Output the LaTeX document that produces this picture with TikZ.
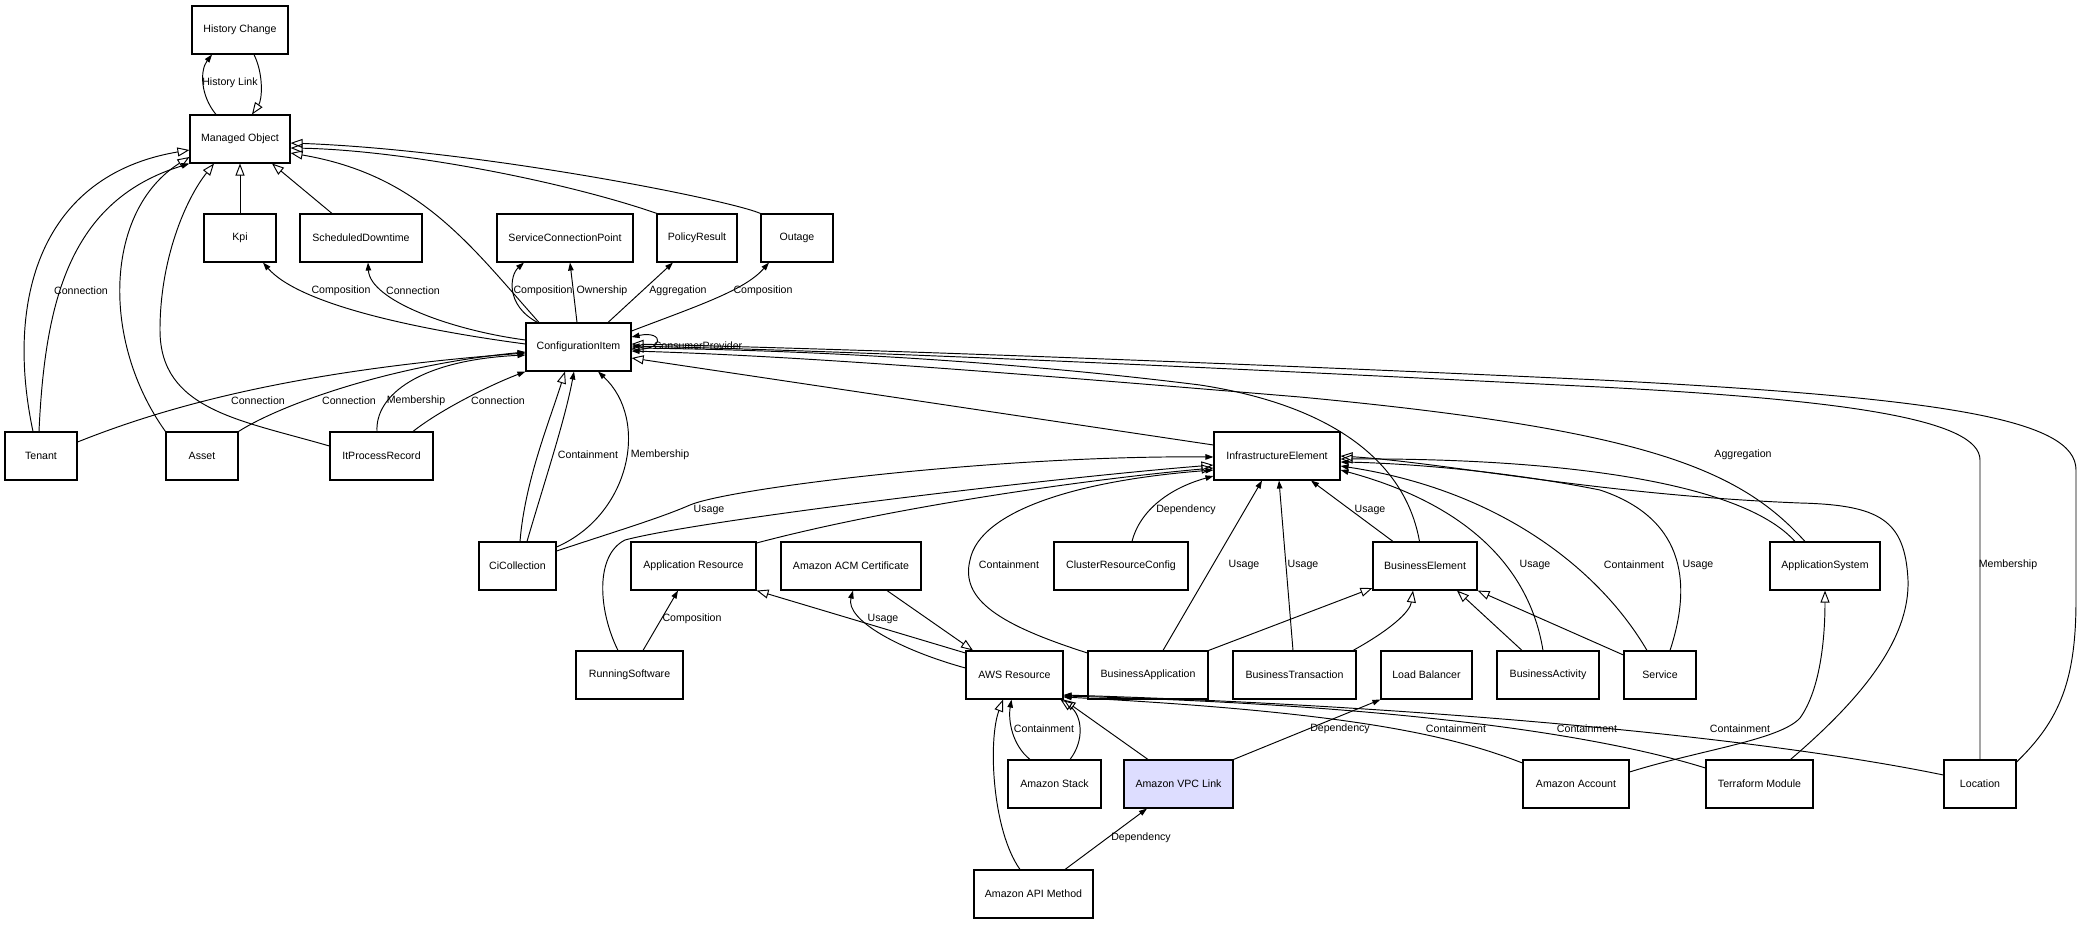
\documentclass[tikz,border=0pt]{standalone}
\usepackage{fontspec}
\setmainfont{Liberation Sans}
\usetikzlibrary{arrows.meta}
\definecolor{vpcfill}{RGB}{221,221,255}
\begin{document}
\begin{tikzpicture}[x=1pt,y=-1pt,
  every node/.style={font=\fontsize{10.6}{12}\selectfont},
  box/.style={draw=black,line width=1.1pt,fill=white,minimum height=48pt,inner sep=0pt},
  inh/.style={line width=0.95pt,-{Triangle[open,length=12pt,width=9pt,line width=0.95pt]}},
  asc/.style={line width=0.95pt,-{Triangle[length=8pt,width=5.5pt]}},
  lbl/.style={inner sep=0pt}]
\useasboundingbox (0,0) rectangle (2081,924);
\fill[white] (0,0) rectangle (2081,924);
% nodes
\node[box,minimum width=96pt] (hc) at (240,30) {History Change};
\node[box,minimum width=100pt] (mo) at (240,139) {Managed Object};
\node[box,minimum width=72pt] (kpi) at (240,238) {Kpi};
\node[box,minimum width=122pt] (sd) at (361,238) {ScheduledDowntime};
\node[box,minimum width=136pt] (scp) at (565,238) {ServiceConnectionPoint};
\node[box,minimum width=80pt] (pr) at (697,238) {PolicyResult};
\node[box,minimum width=72pt] (ou) at (797,238) {Outage};
\node[box,minimum width=105pt] (ci) at (578.5,347) {ConfigurationItem};
\node[box,minimum width=72pt] (tn) at (41,456) {Tenant};
\node[box,minimum width=72pt] (ast) at (202,456) {Asset};
\node[box,minimum width=103pt] (ipr) at (381.5,456) {ItProcessRecord};
\node[box,minimum width=126pt] (ie) at (1277,456) {InfrastructureElement};
\node[box,minimum width=77pt] (cc) at (517.5,566) {CiCollection};
\node[box,minimum width=125pt] (ar) at (693.5,566) {Application Resource};
\node[box,minimum width=140pt] (acm) at (851,566) {Amazon ACM Certificate};
\node[box,minimum width=134pt] (crc) at (1121,566) {ClusterResourceConfig};
\node[box,minimum width=104pt] (be) at (1425,566) {BusinessElement};
\node[box,minimum width=110pt] (asys) at (1825,566) {ApplicationSystem};
\node[box,minimum width=107pt] (rs) at (629.5,675) {RunningSoftware};
\node[box,minimum width=97pt] (aws) at (1014.5,675) {AWS Resource};
\node[box,minimum width=120pt] (bapp) at (1148,675) {BusinessApplication};
\node[box,minimum width=123pt] (bt) at (1294.5,675) {BusinessTransaction};
\node[box,minimum width=91pt] (lb) at (1426.5,675) {Load Balancer};
\node[box,minimum width=102pt] (bac) at (1548,675) {BusinessActivity};
\node[box,minimum width=72pt] (sv) at (1660,675) {Service};
\node[box,minimum width=93pt] (st) at (1054.5,784) {Amazon Stack};
\node[box,minimum width=109pt,fill=vpcfill] (vpc) at (1178.5,784) {Amazon VPC Link};
\node[box,minimum width=106pt] (aa) at (1576,784) {Amazon Account};
\node[box,minimum width=107pt] (tm) at (1759.5,784) {Terraform Module};
\node[box,minimum width=72pt] (loc) at (1980,784) {Location};
\node[box,minimum width=119pt] (api) at (1033.5,894) {Amazon API Method};
% edges: Managed Object area
\draw[asc] ([xshift=-24pt]mo.north) .. controls (200,95) and (200,70) .. ([xshift=-28pt]hc.south);
\draw[inh] ([xshift=14pt]hc.south) .. controls (264,75) and (262,100) .. ([xshift=12pt]mo.north);
\draw[inh] (kpi.north) -- (mo.south);
\draw[inh] ([xshift=-29pt]sd.north) -- ([xshift=32pt]mo.south);
\draw[inh] ([xshift=-39.5pt]ci.north) .. controls (470,245) and (420,175) .. ([yshift=-14pt]mo.east);
\draw[inh] ([xshift=-40pt]pr.north) .. controls (560,180) and (400,150) .. ([yshift=-9pt]mo.east);
\draw[inh] (ou.north west) .. controls (730,200) and (480,150) .. ([yshift=-4pt]mo.east);
\draw[inh] ([xshift=-8pt]tn.north) .. controls (5,300) and (40,175) .. ([yshift=-11pt]mo.west);
\draw[asc] ([xshift=-2pt]tn.north) .. controls (45,300) and (70,200) .. (mo.south west);
\draw[inh] (ast.north west) .. controls (100,340) and (105,210) .. ([yshift=-18pt]mo.west);
\draw[inh] ([yshift=10pt]ipr.west) .. controls (240,420) and (160,410) .. (160,330) .. controls (160,260) and (185,200) .. ([xshift=-26pt]mo.south);
% ConfigurationItem top
\draw[asc] ([yshift=3pt]ci.west) .. controls (420,330) and (300,305) .. ([xshift=23pt]kpi.south);
\draw[asc] ([yshift=7pt]ci.west) .. controls (450,330) and (370,300) .. ([xshift=7pt]sd.south);
\draw[asc] ([xshift=-41pt]ci.north) .. controls (505,305) and (510,275) .. ([xshift=-41pt]scp.south);
\draw[asc] ([xshift=-1.5pt]ci.north) -- ([xshift=5pt]scp.south);
\draw[asc] ([xshift=29.5pt]ci.north) -- ([xshift=-24pt]pr.south);
\draw[asc] ([yshift=16pt]ci.east) .. controls (700,305) and (745,290) .. ([xshift=-28pt]ou.south);
\draw[asc] ([yshift=-2pt]ci.east) .. controls (665,352) and (665,330) .. ([yshift=10pt]ci.east);
% ConfigurationItem left and bottom
\draw[asc] ([yshift=14pt]tn.east) .. controls (170,405) and (300,370) .. ([yshift=-6pt]ci.west);
\draw[asc] (ast.north east) .. controls (280,405) and (390,365) .. ([yshift=-5pt]ci.west);
\draw[asc] ([xshift=-4.5pt]ipr.north) .. controls (375,395) and (420,360) .. ([yshift=-8pt]ci.west);
\draw[asc] ([xshift=31.5pt]ipr.north) .. controls (440,410) and (490,385) .. (ci.south west);
\draw[inh] ([xshift=2.5pt]cc.north) .. controls (525,480) and (550,420) .. ([xshift=-13.5pt]ci.south);
\draw[asc] ([xshift=9.5pt]cc.north) .. controls (545,480) and (565,420) .. ([xshift=-4.5pt]ci.south);
\draw[asc] ([yshift=19pt]cc.east) .. controls (630,515) and (650,420) .. ([xshift=19.5pt]ci.south);
% ConfigurationItem right
\draw[inh] ([yshift=11pt]ie.west) -- ([yshift=-11pt]ci.east);
\draw[inh] ([xshift=-5.5pt]be.north) .. controls (1405,460) and (1330,405) .. (1200,385) .. controls (1000,360) and (800,350) .. ([yshift=-1pt]ci.east);
\draw[asc] ([xshift=-20pt]asys.north) .. controls (1740,470) and (1650,430) .. (1300,397) .. controls (1000,372) and (800,356) .. ([yshift=-4pt]ci.east);
\draw[asc] (loc.north) -- (1980,460) .. controls (1980,420) and (1850,400) .. (1600,387) .. controls (1300,372) and (900,352) .. ([yshift=1pt]ci.east);
\draw[inh] ([yshift=22pt]loc.east) .. controls (2060,720) and (2076,680) .. (2076,600) -- (2076,470) .. controls (2076,420) and (1950,398) .. (1600,380) .. controls (1300,366) and (900,350) .. ([yshift=3pt]ci.east);
% InfrastructureElement left
\draw[asc] ([yshift=15pt]cc.east) .. controls (620,530) and (660,518) .. (690,505) .. controls (730,488) and (1000,455) .. ([yshift=-1pt]ie.west);
\draw[inh] ([xshift=-11.5pt]rs.north) .. controls (598,610) and (595,555) .. (625,540) .. controls (700,520) and (1050,478) .. ([yshift=-9pt]ie.west);
\draw[inh] ([yshift=23pt]ar.east) .. controls (900,505) and (1100,478) .. ([yshift=-12pt]ie.west);
\draw[asc] ([xshift=11pt]crc.north) .. controls (1140,510) and (1170,488) .. ([yshift=-20pt]ie.west);
\draw[asc] ([yshift=22pt]bapp.west) .. controls (1000,625) and (960,600) .. (970,560) .. controls (980,510) and (1080,480) .. ([yshift=-14pt]ie.west);
% InfrastructureElement bottom
\draw[asc] ([xshift=15pt]bapp.north) -- ([xshift=-15pt]ie.south);
\draw[asc] ([xshift=-1.5pt]bt.north) -- ([xshift=2pt]ie.south);
\draw[asc] ([xshift=-32pt]be.north) -- ([xshift=34pt]ie.south);
% InfrastructureElement right
\draw[asc] ([xshift=-5pt]bac.north) .. controls (1530,570) and (1470,505) .. ([yshift=-14pt]ie.east);
\draw[asc] ([xshift=-13pt]sv.north) .. controls (1600,570) and (1500,490) .. ([yshift=-10pt]ie.east);
\draw[asc] ([xshift=10pt]sv.north) .. controls (1690,590) and (1690,520) .. (1600,490) .. controls (1500,470) and (1400,463) .. ([yshift=-6pt]ie.east);
\draw[inh] ([xshift=-30pt]asys.north) .. controls (1740,480) and (1550,458) .. ([yshift=-3pt]ie.east);
\draw[inh] ([xshift=31pt]tm.north) .. controls (1860,700) and (1910,640) .. (1908,580) .. controls (1905,520) and (1880,505) .. (1800,503) .. controls (1600,495) and (1450,463) .. (ie.east);
% BusinessElement
\draw[inh] (bapp.north east) -- ([yshift=-22pt]be.west);
\draw[inh] ([xshift=58.5pt]bt.north) .. controls (1390,630) and (1410,612) .. ([xshift=-12pt]be.south);
\draw[inh] ([xshift=-26pt]bac.north) -- ([xshift=32pt]be.south);
\draw[inh] ([yshift=20pt]sv.west) -- (be.south east);
% Application Resource / AWS
\draw[asc] ([xshift=13.5pt]rs.north) -- ([xshift=-15.5pt]ar.south);
\draw[inh] ([yshift=22pt]aws.west) -- (ar.south east);
\draw[asc] ([yshift=7pt]aws.west) .. controls (900,650) and (845,620) .. ([xshift=2pt]acm.south);
\draw[inh] ([xshift=36pt]acm.south) -- ([xshift=-41.5pt]aws.north);
\draw[asc] ([xshift=-24.5pt]st.north) .. controls (1012,745) and (1008,720) .. ([xshift=-3pt]aws.south);
\draw[inh] ([xshift=15.5pt]st.north) .. controls (1085,740) and (1082,715) .. ([xshift=46pt]aws.south);
\draw[inh] ([xshift=-30.5pt]vpc.north) -- (aws.south east);
\draw[asc] (vpc.north east) -- (lb.south west);
\draw[asc] ([xshift=31.5pt]api.north) -- ([xshift=-31.5pt]vpc.south);
\draw[inh] ([xshift=-13.5pt]api.north) .. controls (992,830) and (988,740) .. ([xshift=-11.5pt]aws.south);
\draw[asc] ([yshift=21pt]aa.west) .. controls (1450,735) and (1350,712) .. ([yshift=-22pt]aws.east);
\draw[asc] ([yshift=16pt]tm.west) .. controls (1600,735) and (1400,705) .. ([yshift=-21pt]aws.east);
\draw[asc] ([yshift=9pt]loc.west) .. controls (1750,735) and (1400,705) .. ([yshift=-20pt]aws.east);
\draw[inh] ([yshift=12pt]aa.east) .. controls (1700,750) and (1780,740) .. (1800,718) .. controls (1820,690) and (1825,640) .. (asys.south);
% labels
\node[lbl] (l01) at (230,83) {History Link};
\node[lbl] (l02) at (81,291) {Connection};
\node[lbl] (l03) at (341,291) {Composition};
\node[lbl] (l04) at (413,291) {Connection};
\node[lbl] (l05) at (543,291) {Composition};
\node[lbl] (l06) at (602,291) {Ownership};
\node[lbl] (l07) at (678,291) {Aggregation};
\node[lbl] (l08) at (763,291) {Composition};
\node[lbl] (l09) at (698,346) {ConsumerProvider};
\node[lbl] (l10) at (258,401) {Connection};
\node[lbl] (l11) at (349,401) {Connection};
\node[lbl] (l12) at (416,401) {Membership};
\node[lbl] (l13) at (498,401) {Connection};
\node[lbl] (l14) at (588,455) {Containment};
\node[lbl] (l15) at (660,455) {Membership};
\node[lbl] (l16) at (1743,455) {Aggregation};
\node[lbl] (l17) at (2008,565) {Membership};
\node[lbl] (l18) at (709,510) {Usage};
\node[lbl] (l19) at (1186,510) {Dependency};
\node[lbl] (l20) at (1370,510) {Usage};
\node[lbl] (l21) at (1009,565) {Containment};
\node[lbl] (l22) at (1244,565) {Usage};
\node[lbl] (l23) at (1303,565) {Usage};
\node[lbl] (l24) at (1535,565) {Usage};
\node[lbl] (l25) at (1634,565) {Containment};
\node[lbl] (l26) at (1698,565) {Usage};
\node[lbl] (l27) at (692,619) {Composition};
\node[lbl] (l28) at (883,619) {Usage};
\node[lbl] (l29) at (1044,729) {Containment};
\node[lbl] (l30) at (1340,729) {Dependency};
\node[lbl] (l31) at (1456,729) {Containment};
\node[lbl] (l32) at (1587,729) {Containment};
\node[lbl] (l33) at (1740,729) {Containment};
\node[lbl] (l34) at (1141,838) {Dependency};
\end{tikzpicture}
\end{document}
